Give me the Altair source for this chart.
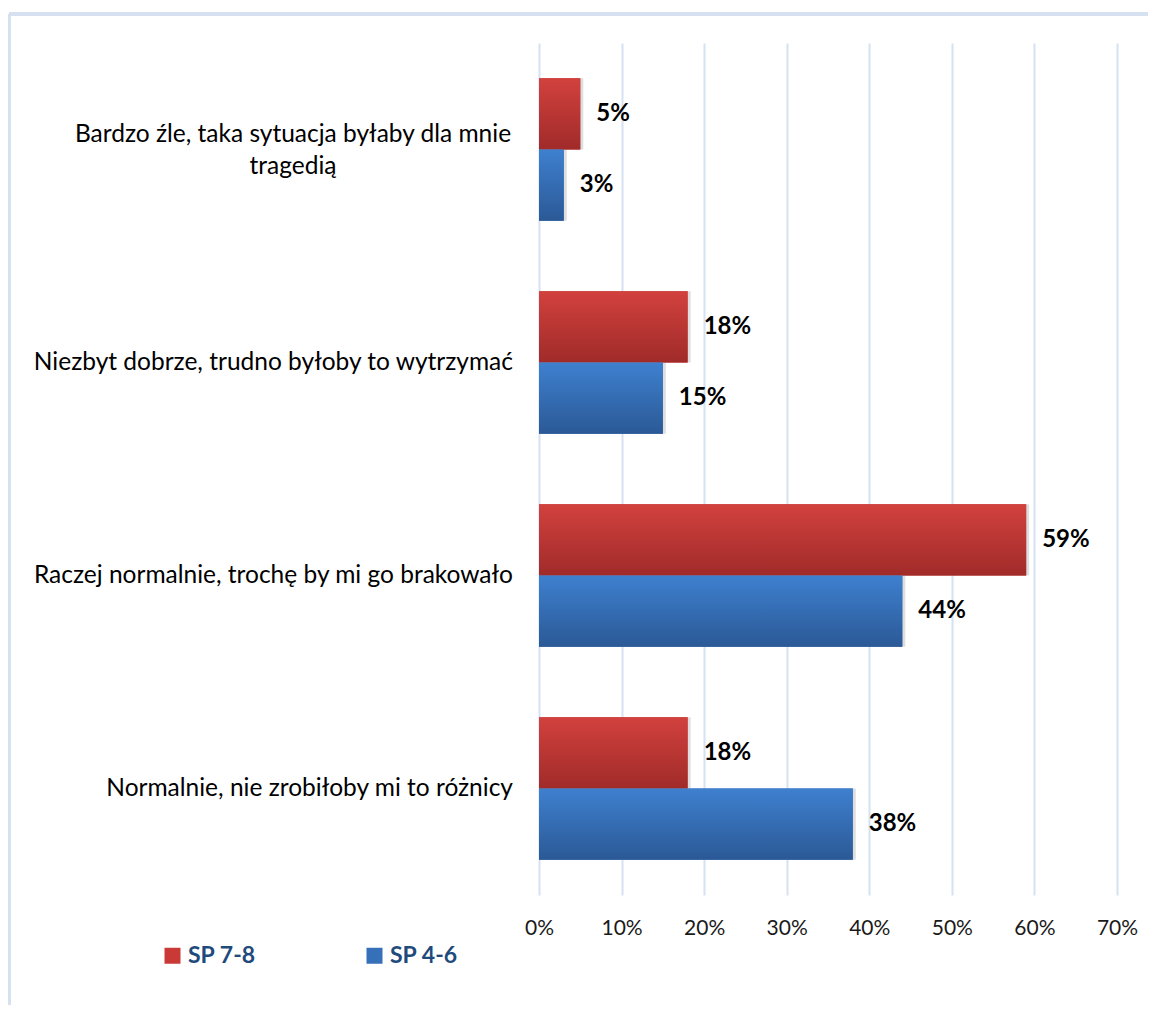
import altair as alt
import pandas as pd

categories = [
    "Bardzo źle, taka sytuacja byłaby dla mnie\ntragedią",
    "Niezbyt dobrze, trudno byłoby to wytrzymać",
    "Raczej normalnie, trochę by mi go brakowało",
    "Normalnie, nie zrobiłoby mi to różnicy",
]
series = ["SP 7-8", "SP 4-6"]
sp78 = [5, 18, 59, 18]
sp46 = [3, 15, 44, 38]
ticks = [0, 0.1, 0.2, 0.3, 0.4, 0.5, 0.6, 0.7]

rows = []
for i, c in enumerate(categories):
    rows.append({"cat": c, "series": series[0], "value": sp78[i] / 100, "multi": "\n" in c})
    rows.append({"cat": c, "series": series[1], "value": sp46[i] / 100, "multi": "\n" in c})
df = pd.DataFrame(rows)
cat_df = pd.DataFrame({"cat": categories, "multi": ["\n" in c for c in categories]})

FONT = "Lato"
RED = "#C93A37"
BLUE = "#3670B8"

yenc = alt.Y("cat:N", sort=categories, axis=None,
             scale=alt.Scale(domain=categories, paddingInner=0.33, paddingOuter=0.165))
yoff = alt.YOffset("series:N", sort=series,
                   scale=alt.Scale(domain=series, paddingInner=0, paddingOuter=0))
xenc = alt.X("value:Q", title=None,
             scale=alt.Scale(domain=[0, 0.7], nice=False),
             axis=alt.Axis(values=ticks, format=".0%", grid=True, gridColor="#D6E2F2",
                           gridWidth=2, domain=False, ticks=False, labelFontSize=21,
                           labelFont=FONT, labelColor="#1a1a1a", labelPadding=22,
                           labelFlush=False, labelFontWeight="normal"))

base = alt.Chart(df)

shadow = base.mark_bar(color="#000000", opacity=0.13, xOffset=3, yOffset=3).encode(
    x="value:Q", y=yenc, yOffset=yoff)

bars = base.mark_bar().encode(
    x=xenc, y=yenc, yOffset=yoff,
    color=alt.Color("series:N", sort=series,
                    scale=alt.Scale(domain=series, range=[RED, BLUE]),
                    legend=alt.Legend(title=None)),
)

def grad(top, bottom):
    return alt.Gradient(gradient="linear",
                        stops=[alt.GradientStop(color=top, offset=0),
                               alt.GradientStop(color=bottom, offset=1)],
                        x1=0, x2=0, y1=0, y2=1)

red_bars = base.transform_filter(alt.datum.series == series[0]).mark_bar(
    color=grad("#D2413E", "#A02B29")).encode(x="value:Q", y=yenc, yOffset=yoff)
blue_bars = base.transform_filter(alt.datum.series == series[1]).mark_bar(
    color=grad("#3E80CF", "#2B5996")).encode(x="value:Q", y=yenc, yOffset=yoff)

labels = base.mark_text(align="left", baseline="middle", dx=16, fontSize=24,
                        fontWeight="bold", font=FONT, color="#000000").encode(
    x="value:Q", y=yenc, yOffset=yoff, text=alt.Text("value:Q", format=".0%"))

cat_single = alt.Chart(cat_df).transform_filter("!datum.multi").mark_text(
    align="right", baseline="middle", fontSize=24.5, font=FONT, color="#000000",
    lineBreak="\n").encode(y=yenc, x=alt.value(-26), text="cat:N")
cat_multi = alt.Chart(cat_df).transform_filter("datum.multi").mark_text(
    align="center", baseline="middle", fontSize=24.5, font=FONT, color="#000000",
    lineBreak="\n", lineHeight=32, dy=-15).encode(y=yenc, x=alt.value(-246), text="cat:N")

frame_top = alt.Chart(cat_df).mark_rule(color="#D5E0F0", strokeWidth=3).encode(
    x=alt.value(-530), x2=alt.value(700), y=alt.value(-29))
frame_left = alt.Chart(cat_df).mark_rule(color="#D5E0F0", strokeWidth=3).encode(
    x=alt.value(-530), y=alt.value(-29), y2=alt.value(1000))

chart = alt.layer(frame_top, frame_left, shadow, bars, red_bars, blue_bars, labels,
                  cat_single, cat_multi).properties(
    width=578, height=852,
    autosize=alt.AutoSizeParams(type="none"),
    padding={"left": 531, "top": 35, "right": 31, "bottom": 110},
).configure_view(stroke=None).configure_legend(
    orient="none", legendX=-378, legendY=901, direction="horizontal",
    symbolType="square", symbolSize=256, symbolStrokeWidth=0,
    labelFontSize=23, labelFontWeight="bold", labelFont=FONT, labelColor="#1F4A7C",
    labelOffset=4, columnPadding=107, padding=0, symbolOpacity=1,
)

chart.save("out.html", embed_options={"renderer": "svg", "actions": False})
